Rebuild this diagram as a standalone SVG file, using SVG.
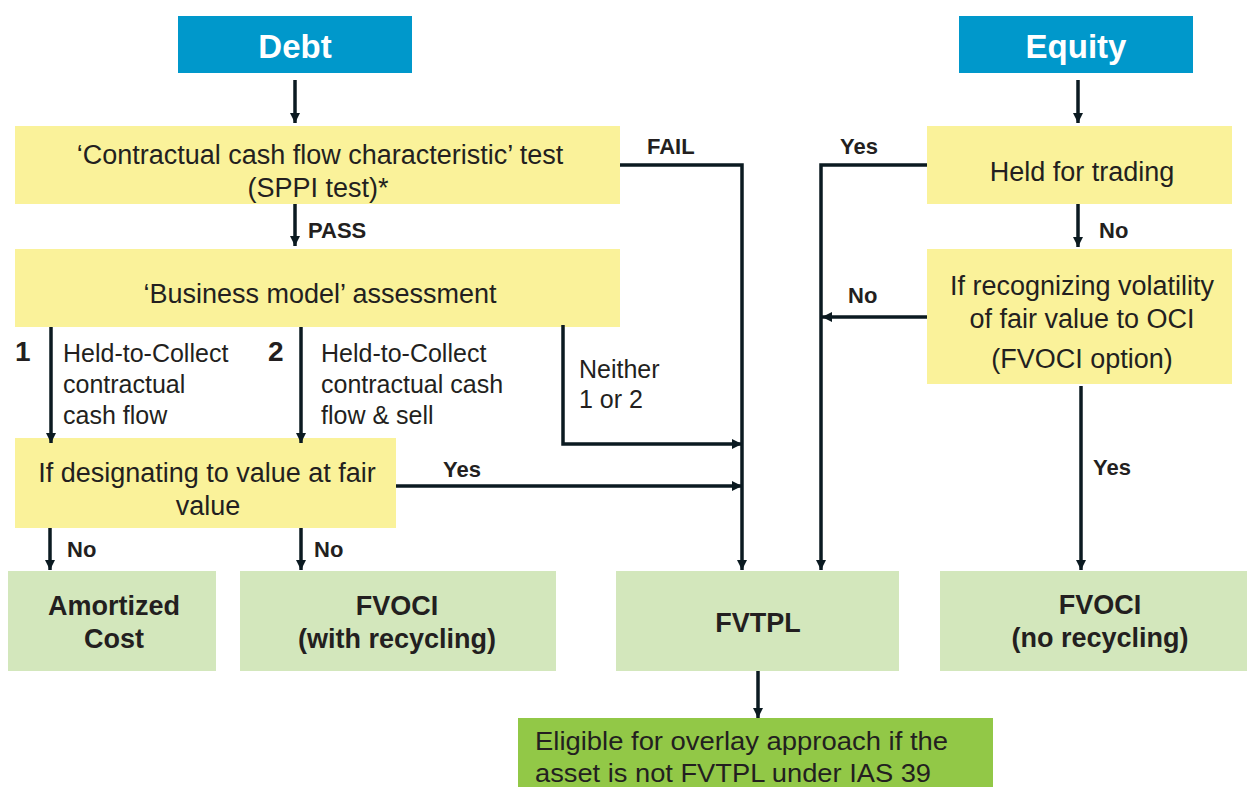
<svg xmlns="http://www.w3.org/2000/svg" width="1247" height="787" viewBox="0 0 1247 787">
<style>
.hdr{fill:#0098CB}
.yel{fill:#FAF29A}
.res{fill:#D3E7BC}
.ovl{fill:#92C847}
.t{font-family:"Liberation Sans",Arial,sans-serif;fill:#231F20}
.hdrt{font-family:"Liberation Sans",Arial,sans-serif;fill:#fff;font-weight:bold;font-size:33px;text-anchor:middle}
.bx{font-size:27px;text-anchor:middle}
.rt{font-size:27px;font-weight:bold;text-anchor:middle}
.lb{font-size:22px;font-weight:bold}
.sm{font-size:25px}
.num{font-size:28px;font-weight:bold}
.ln{fill:none;stroke:#0B1A21;stroke-width:3.5}
</style>
<defs>
<marker id="ah" viewBox="0 0 10 10" refX="10" refY="5" markerWidth="10" markerHeight="10" markerUnits="userSpaceOnUse" orient="auto">
<path d="M0,0 L10,5 L0,10 z" fill="#0B1A21"/>
</marker>
</defs>
<g id="debt"><rect class="hdr" x="178" y="16" width="234" height="57"/><text class="hdrt" x="295" y="58">Debt</text></g>
<g id="equity"><rect class="hdr" x="959" y="16" width="234" height="57"/><text class="hdrt" x="1076" y="58">Equity</text></g>
<g id="sppi"><rect class="yel" x="15" y="126" width="605" height="78"/><text class="t bx" x="320" y="164">‘Contractual cash flow characteristic’ test</text><text class="t bx" x="318" y="197">(SPPI test)*</text></g>
<g id="bm"><rect class="yel" x="15" y="249" width="605" height="78"/><text class="t bx" x="320" y="303">‘Business model’ assessment</text></g>
<g id="designate"><rect class="yel" x="15" y="438" width="381" height="90"/><text class="t bx" x="207" y="482">If designating to value at fair</text><text class="t bx" x="208" y="515">value</text></g>
<g id="hft"><rect class="yel" x="927" y="126" width="305" height="78"/><text class="t bx" x="1082" y="181">Held for trading</text></g>
<g id="oci"><rect class="yel" x="927" y="249" width="305" height="135"/><text class="t bx" x="1082" y="295">If recognizing volatility</text><text class="t bx" x="1082" y="328">of fair value to OCI</text><text class="t bx" x="1082" y="368">(FVOCI option)</text></g>
<g id="amortized"><rect class="res" x="8" y="571" width="208" height="100"/><text class="t rt" x="114" y="615">Amortized</text><text class="t rt" x="114" y="648">Cost</text></g>
<g id="fvoci1"><rect class="res" x="240" y="571" width="316" height="100"/><text class="t rt" x="397" y="615">FVOCI</text><text class="t rt" x="397" y="648">(with recycling)</text></g>
<g id="fvtpl"><rect class="res" x="616" y="571" width="283" height="100"/><text class="t rt" x="758" y="632">FVTPL</text></g>
<g id="fvoci2"><rect class="res" x="940" y="571" width="307" height="100"/><text class="t rt" x="1100" y="614">FVOCI</text><text class="t rt" x="1100" y="647">(no recycling)</text></g>
<g id="overlay"><rect class="ovl" x="518" y="718" width="475" height="69"/><text class="t" x="535" y="750" font-size="25" textLength="413" lengthAdjust="spacingAndGlyphs">Eligible for overlay approach if the</text><text class="t" x="535" y="782" font-size="25" textLength="396" lengthAdjust="spacingAndGlyphs">asset is not FVTPL under IAS 39</text></g>
<g id="connectors">
<path class="ln" d="M295,80 V123" marker-end="url(#ah)"/>
<path class="ln" d="M295,204 V246" marker-end="url(#ah)"/>
<path class="ln" d="M51,327 V443" marker-end="url(#ah)"/>
<path class="ln" d="M301,327 V443" marker-end="url(#ah)"/>
<path class="ln" d="M563,325 V444 H742" marker-end="url(#ah)"/>
<path class="ln" d="M620,165 H742 V570" marker-end="url(#ah)"/>
<path class="ln" d="M396,486 H742" marker-end="url(#ah)"/>
<path class="ln" d="M50,528 V570" marker-end="url(#ah)"/>
<path class="ln" d="M301,528 V570" marker-end="url(#ah)"/>
<path class="ln" d="M1078,80 V123" marker-end="url(#ah)"/>
<path class="ln" d="M927,165 H821 V570" marker-end="url(#ah)"/>
<path class="ln" d="M1078,204 V247" marker-end="url(#ah)"/>
<path class="ln" d="M927,317 H822" marker-end="url(#ah)"/>
<path class="ln" d="M1081,386 V570" marker-end="url(#ah)"/>
<path class="ln" d="M758,671 V718" marker-end="url(#ah)"/>
<text class="t lb" x="308" y="238">PASS</text>
<text class="t lb" x="647" y="154">FAIL</text>
<text class="t lb" x="840" y="154">Yes</text>
<text class="t lb" x="1099" y="238">No</text>
<text class="t lb" x="848" y="303">No</text>
<text class="t lb" x="1093" y="475">Yes</text>
<text class="t lb" x="443" y="477">Yes</text>
<text class="t lb" x="67" y="557">No</text>
<text class="t lb" x="314" y="557">No</text>
<text class="t num" x="15" y="361">1</text>
<text class="t num" x="268" y="361">2</text>
<text class="t sm" x="63" y="362">Held-to-Collect</text>
<text class="t sm" x="63" y="393">contractual</text>
<text class="t sm" x="63" y="424">cash flow</text>
<text class="t sm" x="321" y="362">Held-to-Collect</text>
<text class="t sm" x="321" y="393">contractual cash</text>
<text class="t sm" x="321" y="424">flow &amp; sell</text>
<text class="t sm" x="579" y="378">Neither</text>
<text class="t sm" x="579" y="408">1 or 2</text>
</g>
</svg>
